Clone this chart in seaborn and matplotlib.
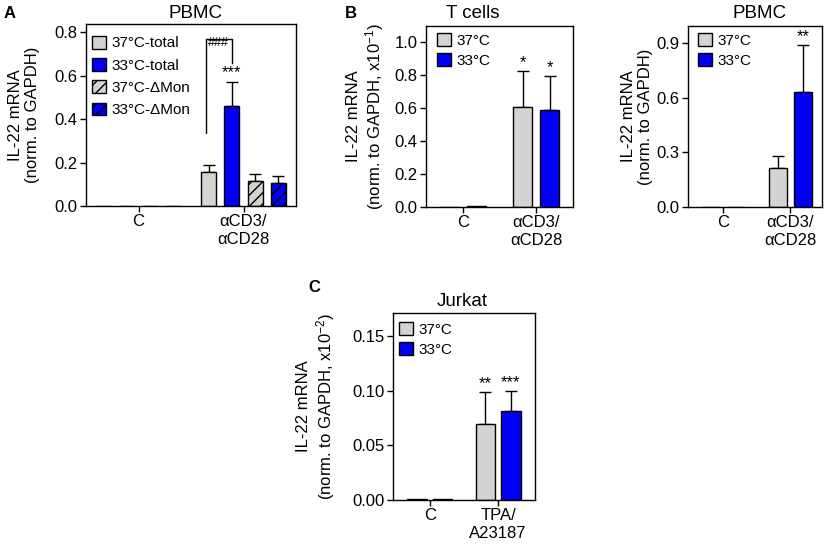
import numpy as np
import pandas as pd
import matplotlib
matplotlib.use("Agg")
import matplotlib.pyplot as plt
import seaborn as sns

GREY = "#d3d3d3"
BLUE = "#0000f5"

# --- panel A: PBMC, total vs monocyte-depleted ---
a_groups = ["C", "αCD3/\nαCD28"]
a_conds = ["37°C-total", "33°C-total", "37°C-ΔMon", "33°C-ΔMon"]
a_mean = [[0.0, 0.155], [0.0, 0.46], [0.0, 0.115], [0.0, 0.105]]
a_err = [[0.0, 0.032], [0.0, 0.112], [0.0, 0.034], [0.0, 0.032]]
a_stars = {(1, 1): "***"}

# --- panel B left: T cells ---
b1_groups = ["C", "αCD3/\nαCD28"]
b_conds = ["37°C", "33°C"]
b1_mean = [[0.0, 0.605], [0.005, 0.585]]
b1_err = [[0.0, 0.217], [0.0, 0.21]]
b1_stars = {(0, 1): "*", (1, 1): "*"}

# --- panel B right: PBMC ---
b2_groups = ["C", "αCD3/\nαCD28"]
b2_mean = [[0.0, 0.215], [0.0, 0.632]]
b2_err = [[0.0, 0.067], [0.0, 0.256]]
b2_stars = {(1, 1): "**"}

# --- panel C: Jurkat ---
c_groups = ["C", "TPA/\nA23187"]
c_mean = [[0.0009, 0.0693], [0.0009, 0.0815]]
c_err = [[0.0, 0.0292], [0.0, 0.0183]]
c_stars = {(0, 1): "**", (1, 1): "***"}

sns.set_theme(style="ticks")
plt.rcParams["font.family"] = ["Liberation Sans", "DejaVu Sans"]
plt.rcParams["mathtext.fontset"] = "custom"
plt.rcParams["mathtext.rm"] = "Liberation Sans"
plt.rcParams["mathtext.it"] = "Liberation Sans"
plt.rcParams["hatch.linewidth"] = 1.0
for k in ["text.color", "axes.labelcolor", "xtick.color", "ytick.color",
          "axes.edgecolor"]:
    plt.rcParams[k] = "black"

W, H = 827, 546


def px_axes(fig, left, top, right, bottom):
    return fig.add_axes([left / W, 1 - bottom / H, (right - left) / W, (bottom - top) / H])


def draw_panel(ax, groups, conds, means, errs, colors, hatches, width, gap,
               xlim, ylim, yticks, fmt, ylabel, label_x, stars, star_pad,
               leg_xy, leg_space):
    rows = []
    for ci, cond in enumerate(conds):
        for gi, g in enumerate(groups):
            rows.append({"group": g, "cond": cond, "value": means[ci][gi]})
    df = pd.DataFrame(rows)
    sns.barplot(data=df, x="group", y="value", hue="cond", order=groups,
                hue_order=conds, palette=colors, saturation=1, width=width,
                gap=gap, edgecolor="black", linewidth=1, errorbar=None,
                legend=False, ax=ax, zorder=2)
    bars = list(ax.containers)
    for ci, cont in enumerate(bars):
        xs, ys, es = [], [], []
        for gi, p in enumerate(cont.patches):
            if hatches[ci]:
                p.set_hatch(hatches[ci])
            x = p.get_x() + p.get_width() / 2
            if errs[ci][gi] > 0:
                xs.append(x)
                ys.append(means[ci][gi])
                es.append(errs[ci][gi])
            if (ci, gi) in stars:
                top = means[ci][gi] + errs[ci][gi]
                ax.text(x, top + star_pad, stars[(ci, gi)], ha="center",
                        va="bottom", fontsize=12)
        if xs:
            ax.errorbar(xs, ys, yerr=[np.zeros(len(es)), es], fmt="none",
                        ecolor="black", elinewidth=1, capsize=4.5, capthick=1,
                        zorder=1)
    ax.set_xlim(*xlim)
    ax.set_ylim(*ylim)
    ax.set_yticks(yticks)
    ax.set_yticklabels([fmt.format(t) for t in yticks])
    ax.set_xlabel("")
    ax.set_ylabel(ylabel, fontsize=12, linespacing=1.15)
    ax.yaxis.set_label_coords(label_x, 0.5)
    ax.tick_params(direction="out", length=4, width=1, labelsize=12,
                   colors="black", pad=2)
    for s in ax.spines.values():
        s.set_visible(True)
        s.set_linewidth(1)
        s.set_color("black")
    ax.legend(bars, conds, loc="upper left", bbox_to_anchor=leg_xy,
              frameon=False, borderpad=0, borderaxespad=0, fontsize=11,
              handlelength=0.9, handleheight=0.9, handletextpad=0.35,
              labelspacing=leg_space)
    return bars


fig = plt.figure(figsize=(W / 100, H / 100), dpi=100)

ax_a = px_axes(fig, 86, 24, 296, 206)
a_bars = draw_panel(ax_a, a_groups, a_conds, a_mean, a_err,
                    [GREY, BLUE, GREY, BLUE], [None, None, "///", "///"], 0.88, 0.35,
                    (-0.5, 1.5), (0, 0.838), [0, 0.2, 0.4, 0.6, 0.8], "{:.1f}",
                    "IL-22 mRNA\n(norm. to GAPDH)", -0.22, a_stars, 0.008,
                    (0.03, 0.935), 0.5)
# bracket between 37°C-total and 33°C-total
p37 = a_bars[0].patches[1]
p33 = a_bars[1].patches[1]
x37 = p37.get_x() + p37.get_width() / 2 - 0.03
x33 = p33.get_x() + p33.get_width() / 2
ax_a.plot([x37, x37, x33, x33], [0.335, 0.77, 0.77, 0.66], color="black", lw=1)
ax_a.text((x37 + x33) / 2, 0.75, "###", ha="center", va="center", fontsize=9)

ax_b1 = px_axes(fig, 426, 26, 573, 207)
draw_panel(ax_b1, b1_groups, b_conds, b1_mean, b1_err, [GREY, BLUE],
           [None, None], 0.74, 0.3, (-0.5, 1.5), (0, 1.097),
           [0, 0.2, 0.4, 0.6, 0.8, 1.0], "{:.1f}",
           "IL-22 mRNA\n(norm. to GAPDH, x10$^{-1}$)", -0.27, b1_stars, 0.005,
           (0.075, 0.96), 0.35)

ax_b2 = px_axes(fig, 688, 26, 822, 207)
draw_panel(ax_b2, b2_groups, b_conds, b2_mean, b2_err, [GREY, BLUE],
           [None, None], 0.74, 0.3, (-0.52, 1.47), (0, 0.993),
           [0, 0.3, 0.6, 0.9], "{:.1f}",
           "IL-22 mRNA\n(norm. to GAPDH)", -0.26, b2_stars, 0.005,
           (0.075, 0.96), 0.35)

ax_c = px_axes(fig, 393, 313, 535, 500)
draw_panel(ax_c, c_groups, b_conds, c_mean, c_err, [GREY, BLUE],
           [None, None], 0.75, 0.25, (-0.54, 1.54), (0, 0.171),
           [0, 0.05, 0.10, 0.15], "{:.2f}",
           "IL-22 mRNA\n(norm. to GAPDH, x10$^{-2}$)", -0.395, c_stars, 0.001,
           (0.045, 0.95), 0.35)

# titles and panel letters
for txt, x, y in [("PBMC", 196, 13), ("T cells", 473, 13), ("PBMC", 760, 13),
                  ("Jurkat", 462, 302)]:
    fig.text(x / W, 1 - y / H, txt, ha="center", va="center", fontsize=13.5)
for txt, x, y in [("A", 4, 13), ("B", 345, 13), ("C", 308, 287)]:
    fig.text(x / W, 1 - y / H, txt, ha="left", va="center", fontsize=12,
             fontweight="bold")

fig.savefig("out.png", dpi=100)
